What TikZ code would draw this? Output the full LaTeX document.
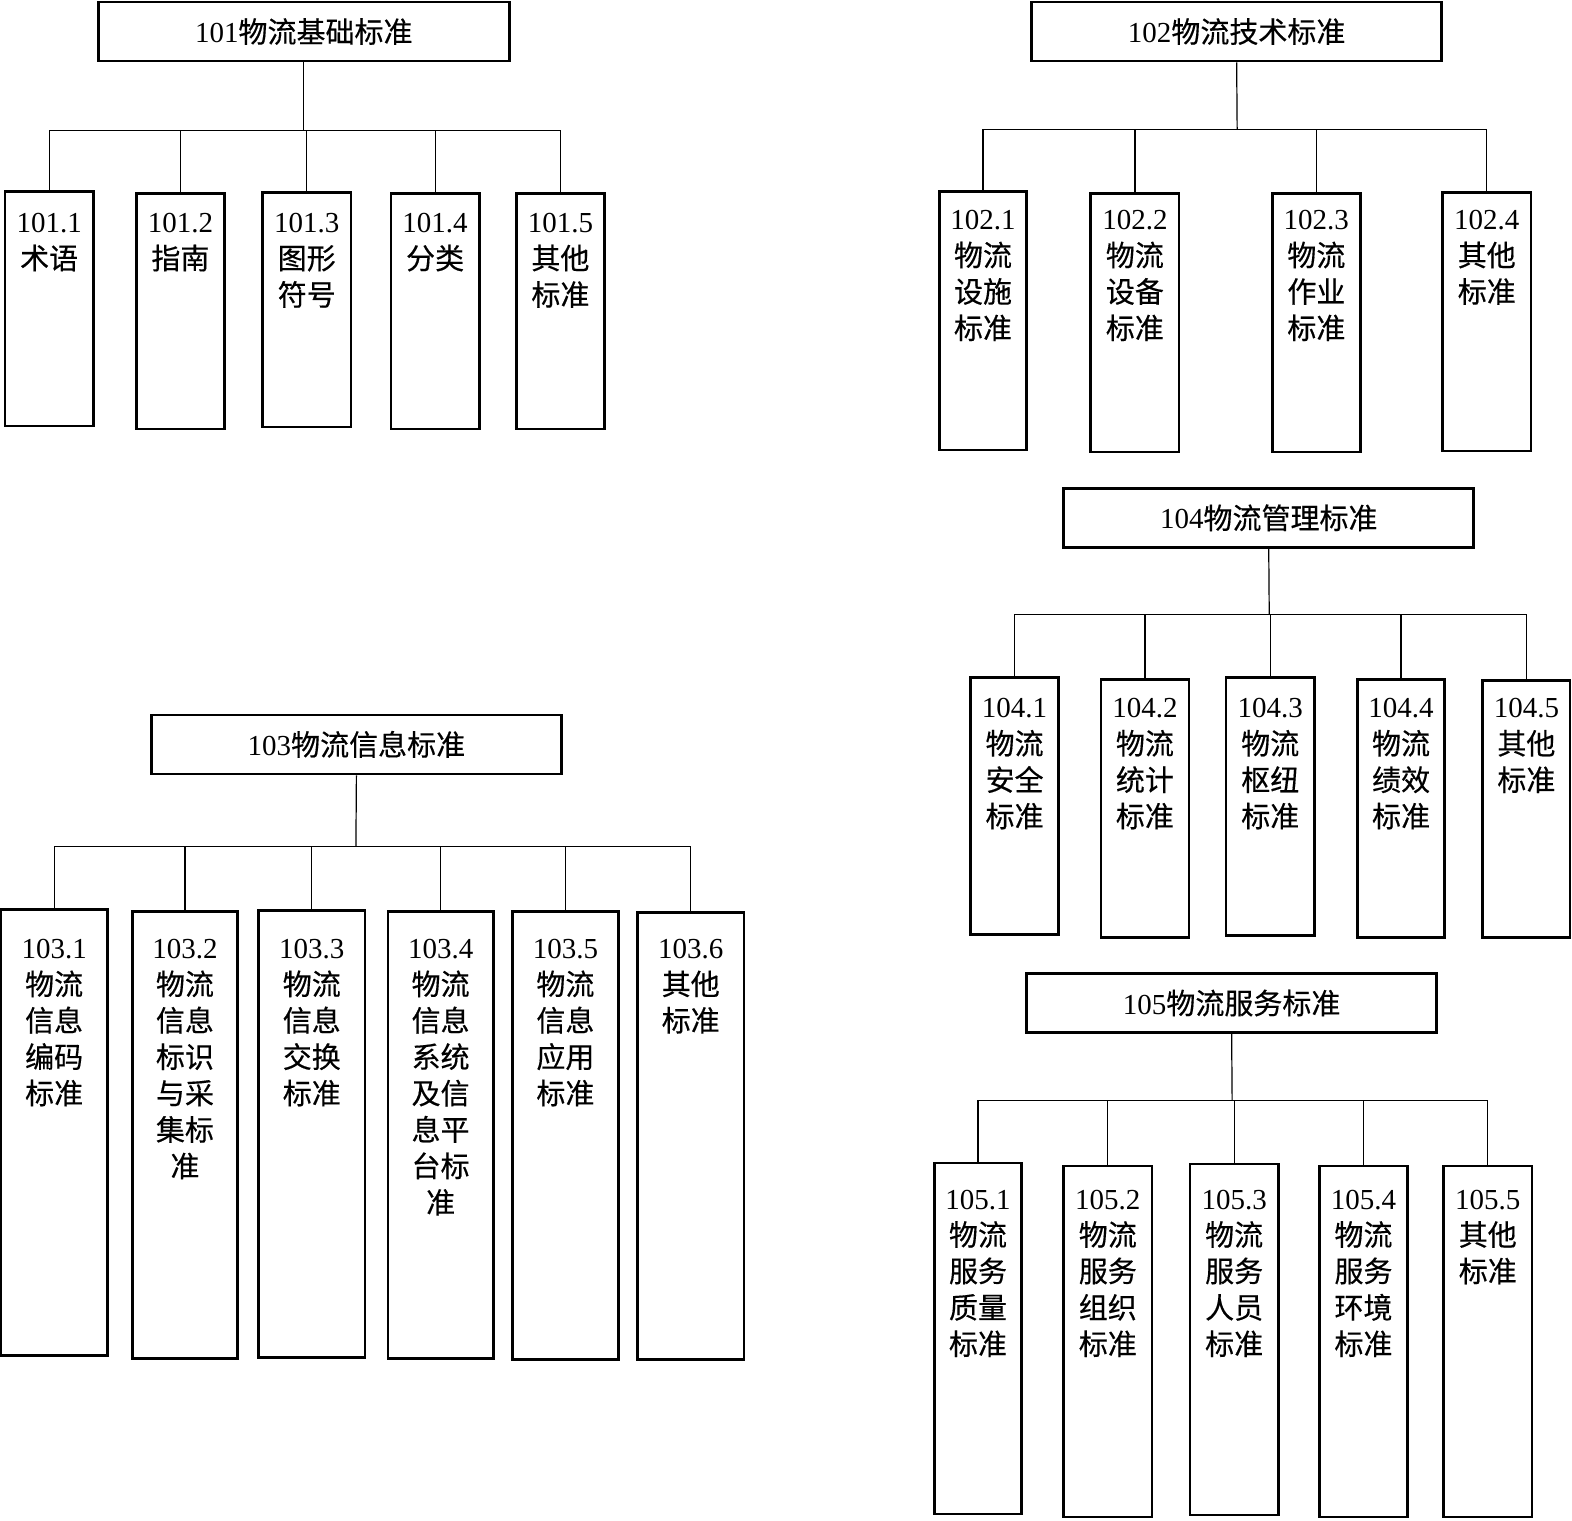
\documentclass[tikz,border=0pt]{standalone}
\usepackage{fontspec}
\setmainfont{Liberation Serif}
\newfontfamily\cjk[FakeBold=0.4]{Noto Sans CJK SC}
\usetikzlibrary{fit}
\newcommand\Num[1]{{\rmfamily #1}}
\newcommand\kid[7]{%
  \node[box, fit={(#2,#3) (#4,#5)}] (#1) {};
  \node[txt] (#1t) at ([yshift=-#6pt-3pt]#1.north) {#7};}
\newcommand\parentbox[6]{%
  \node[box, fit={(#2,#3) (#4,#5)}] (#1) {};
  \node[ptxt] (#1t) at (#1.center) {#6};}
\begin{document}
\begin{tikzpicture}[x=1.0026pt,y=-1.0026pt,
  box/.style={draw, line width=2.6pt, inner sep=0pt},
  conn/.style={line width=1.2pt},
  txt/.style={font=\cjk\fontsize{29}{36.4}\selectfont, align=center, inner sep=0pt, anchor=north},
  ptxt/.style={font=\cjk\fontsize{29}{36}\selectfont, inner sep=0pt}]
\useasboundingbox (0,0) rectangle (1568,1517);

% ---------- 101 ----------
\parentbox{p1}{98}{2}{508}{61}{\Num{101}物流基础标准}
\kid{b11}{5}{191}{93}{425}{20}{\Num{101.1}\\术语}
\kid{b12}{136}{193}{224}{428}{18}{\Num{101.2}\\指南}
\kid{b13}{262}{192}{350}{426}{19}{\Num{101.3}\\图形\\符号}
\kid{b14}{390}{193}{478}{428}{18}{\Num{101.4}\\分类}
\kid{b15}{515}{193}{603}{428}{18}{\Num{101.5}\\其他\\标准}
\coordinate (j1) at (303,130);
\draw[conn] (p1.south) -- (j1);
\foreach \b in {b11,b12,b13,b14,b15} \draw[conn] (j1) -| (\b.north);

% ---------- 102 ----------
\parentbox{p2}{1029}{2}{1438}{61}{\Num{102}物流技术标准}
\kid{b21}{937}{191}{1024}{449}{17}{\Num{102.1}\\物流\\设施\\标准}
\kid{b22}{1088}{193}{1176}{451}{15}{\Num{102.2}\\物流\\设备\\标准}
\kid{b23}{1269}{193}{1357}{451}{15}{\Num{102.3}\\物流\\作业\\标准}
\kid{b24}{1439}{192}{1527}{450}{16}{\Num{102.4}\\其他\\标准}
\coordinate (j2) at (1234,129);
\draw[conn] (p2.south) -- (j2);
\foreach \b in {b21,b22,b23,b24} \draw[conn] (j2) -| (\b.north);

% ---------- 103 ----------
\parentbox{p3}{151}{713}{560}{772}{\Num{103}物流信息标准}
\kid{b31}{1}{907}{107}{1352}{28}{\Num{103.1}\\物流\\信息\\编码\\标准}
\kid{b32}{132}{909}{237}{1355}{26}{\Num{103.2}\\物流\\信息\\标识\\与采\\集标\\准}
\kid{b33}{258}{908}{364}{1354}{27}{\Num{103.3}\\物流\\信息\\交换\\标准}
\kid{b34}{387}{909}{492}{1355}{26}{\Num{103.4}\\物流\\信息\\系统\\及信\\息平\\台标\\准}
\kid{b35}{511}{909}{617}{1356}{26}{\Num{103.5}\\物流\\信息\\应用\\标准}
\kid{b36}{636}{910}{742}{1356}{25}{\Num{103.6}\\其他\\标准}
\coordinate (j3) at (355,844);
\draw[conn] (p3.south) -- (j3);
\foreach \b in {b31,b32,b33,b34,b35,b36} \draw[conn] (j3) -| (\b.north);

% ---------- 104 ----------
\parentbox{p4}{1061}{487}{1470}{546}{\Num{104}物流管理标准}
\kid{b41}{968}{676}{1056}{932}{19}{\Num{104.1}\\物流\\安全\\标准}
\kid{b42}{1098}{678}{1186}{935}{17}{\Num{104.2}\\物流\\统计\\标准}
\kid{b43}{1223}{676}{1311}{933}{19}{\Num{104.3}\\物流\\枢纽\\标准}
\kid{b44}{1354}{678}{1441}{935}{17}{\Num{104.4}\\物流\\绩效\\标准}
\kid{b45}{1479}{679}{1566}{935}{16}{\Num{104.5}\\其他\\标准}
\coordinate (j4) at (1266,613);
\draw[conn] (p4.south) -- (j4);
\foreach \b in {b41,b42,b43,b44,b45} \draw[conn] (j4) -| (\b.north);

% ---------- 105 ----------
\parentbox{p5}{1024}{971}{1433}{1030}{\Num{105}物流服务标准}
\kid{b51}{932}{1160}{1019}{1510}{25}{\Num{105.1}\\物流\\服务\\质量\\标准}
\kid{b52}{1061}{1163}{1149}{1513}{22}{\Num{105.2}\\物流\\服务\\组织\\标准}
\kid{b53}{1187}{1161}{1275}{1511}{24}{\Num{105.3}\\物流\\服务\\人员\\标准}
\kid{b54}{1316}{1163}{1404}{1513}{22}{\Num{105.4}\\物流\\服务\\环境\\标准}
\kid{b55}{1440}{1163}{1528}{1513}{22}{\Num{105.5}\\其他\\标准}
\coordinate (j5) at (1229,1098);
\draw[conn] (p5.south) -- (j5);
\foreach \b in {b51,b52,b53,b54,b55} \draw[conn] (j5) -| (\b.north);
\end{tikzpicture}
\end{document}
